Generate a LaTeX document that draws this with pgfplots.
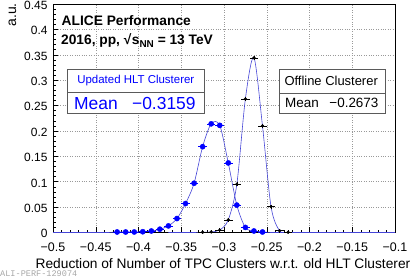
\documentclass[border=0pt]{standalone}
\usepackage{fontspec}
\setmainfont{Liberation Sans}
\newfontfamily\monofont{Liberation Mono}
\usepackage{pgfplots}
\usepackage{pgfplotstable}
\pgfplotsset{compat=1.18}
\definecolor{rootblue}{RGB}{0,0,255}
\definecolor{curveblue}{RGB}{70,70,215}
\definecolor{boxgray}{RGB}{90,90,90}

% Updated HLT Clusterer (blue), bin centres and contents
\pgfplotstableread{
x y
-0.500 0
-0.495 0
-0.485 0
-0.475 0
-0.465 0
-0.455 0
-0.445 0
-0.435 0
-0.425 0.001
-0.415 0.001
-0.405 0.001
-0.395 0.0015
-0.385 0.003
-0.375 0.0065
-0.365 0.013
-0.355 0.0275
-0.345 0.057
-0.335 0.097
-0.325 0.169
-0.315 0.214
-0.305 0.211
-0.295 0.137
-0.285 0.054
-0.275 0.010
-0.265 0.003
-0.255 0.001
-0.245 0
-0.235 0
-0.225 0
-0.215 0
-0.205 0
-0.195 0
-0.185 0
-0.175 0
-0.165 0
-0.155 0
-0.145 0
-0.135 0
-0.125 0
-0.115 0
-0.105 0
-0.100 0
}\bluecurve

\pgfplotstableread{
x y
-0.425 0.001
-0.415 0.001
-0.405 0.001
-0.395 0.0015
-0.385 0.003
-0.375 0.0065
-0.365 0.013
-0.355 0.0275
-0.345 0.057
-0.335 0.097
-0.325 0.169
-0.315 0.214
-0.305 0.211
-0.295 0.137
-0.285 0.054
-0.275 0.010
-0.265 0.003
-0.255 0.001
}\bluepts

% Offline Clusterer (black)
\pgfplotstableread{
x y
-0.365 0
-0.355 0
-0.345 0
-0.335 0
-0.325 0.0005
-0.315 0.001
-0.305 0.005
-0.295 0.025
-0.285 0.095
-0.275 0.263
-0.265 0.344
-0.255 0.210
-0.245 0.051
-0.235 0.0035
-0.225 0.0005
-0.215 0
-0.205 0
-0.195 0
}\blackcurve

\pgfplotstableread{
x y
-0.325 0.0005
-0.315 0.001
-0.305 0.005
-0.295 0.025
-0.285 0.095
-0.275 0.263
-0.265 0.344
-0.255 0.210
-0.245 0.051
-0.235 0.0035
-0.225 0.0005
}\blackpts

\begin{document}
\begin{tikzpicture}[x=1bp,y=1bp]
\begin{axis}[
  at={(53bp,44.5bp)}, anchor=south west,
  scale only axis, width=342bp, height=228.5bp,
  xmin=-0.5, xmax=-0.1, ymin=0, ymax=0.45,
  xtick={-0.5,-0.45,-0.4,-0.35,-0.3,-0.25,-0.2,-0.15,-0.1},
  xticklabels={−0.5,−0.45,−0.4,−0.35,−0.3,−0.25,−0.2,−0.15,−0.1},
  ytick={0,0.05,0.1,0.15,0.2,0.25,0.3,0.35,0.4,0.45},
  yticklabels={0,0.05,0.1,0.15,0.2,0.25,0.3,0.35,0.4,0.45},
  minor x tick num=4, minor y tick num=4,
  tick align=inside, xtick pos=bottom, ytick pos=left,
  major tick length=5bp, minor tick length=2.6bp,
  tick style={black, line width=0.5bp},
  grid=major,
  major grid style={dotted, gray!80, line width=0.5bp},
  axis line style={line width=0.6bp},
  tick label style={font=\fontsize{12.5}{14}\selectfont},
  xticklabel style={yshift=-7bp},
  yticklabel style={xshift=-2bp, yshift=-1.2bp, font=\fontsize{12}{14}\selectfont},
  clip=true,
]
\addplot[curveblue, line width=0.6bp, smooth, no marks] table {\blackcurve};
\addplot[curveblue, line width=0.6bp, smooth, no marks] table {\bluecurve};
\addplot[only marks, mark=*, mark size=2.6bp, rootblue, mark options={fill=rootblue, draw=rootblue},
  error bars/.cd, x dir=both, x fixed=0.005, error bar style={rootblue, line width=0.6bp}, error mark=none]
  table {\bluepts};
\addplot[only marks, mark=*, mark size=1.4bp, black, mark options={fill=black},
  error bars/.cd, x dir=both, x fixed=0.005, y dir=both, y fixed=0.004,
  error bar style={black, line width=0.6bp}, error mark=none]
  table {\blackpts};
\end{axis}

% texts
\node[anchor=base west, inner sep=0pt, font=\bfseries\fontsize{13.8}{15}\selectfont] at (61.5,252) {ALICE Performance};
\node[anchor=base west, inner sep=0pt, font=\bfseries\fontsize{13.8}{15}\selectfont] at (61,233) {2016, pp, √\kern0.5bp s\raisebox{-3bp}{\fontsize{10}{10}\selectfont NN} = 13 TeV};

% Updated HLT box
\draw[boxgray, line width=0.8bp, fill=white] (67.7,163.7) rectangle (204,208);
\draw[boxgray, line width=0.8bp] (67.7,185) -- (204,185);
\node[anchor=base, inner sep=0pt, text=rootblue, font=\fontsize{11.5}{12}\selectfont] at (135.8,193.8) {Updated HLT Clusterer};
\node[anchor=base west, inner sep=0pt, text=rootblue, font=\fontsize{17.5}{20}\selectfont] at (74,168) {Mean\hspace{0.82em}−0.3159};

% Offline box
\draw[boxgray, line width=0.8bp, fill=white] (279.7,163.7) rectangle (385,207.3);
\draw[boxgray, line width=0.8bp] (279.7,183.7) -- (385,183.7);
\node[anchor=base west, inner sep=0pt, font=\fontsize{13}{14}\selectfont] at (284.3,191.2) {Offline Clusterer};
\node[anchor=base west, inner sep=0pt, font=\fontsize{13.5}{15}\selectfont] at (285,169.2) {Mean\hspace{0.79em}−0.2673};

% axis titles
\node[rotate=90, anchor=base east, inner sep=0pt, font=\fontsize{14}{16}\selectfont] at (16,274) {a.u.};
\node[anchor=base east, inner sep=0pt, font=\fontsize{13.8}{15}\selectfont] at (410.5,8.2) {Reduction of Number of TPC Clusters w.r.t. old HLT Clusterer};

\node[anchor=base west, inner sep=0pt, text=gray!70, font=\monofont\fontsize{8.6}{10}\selectfont] at (0,0.2) {ALI-PERF-129074};

\pgfresetboundingbox
\path[use as bounding box] (0,0) rectangle (412,277);
\end{tikzpicture}
\end{document}
